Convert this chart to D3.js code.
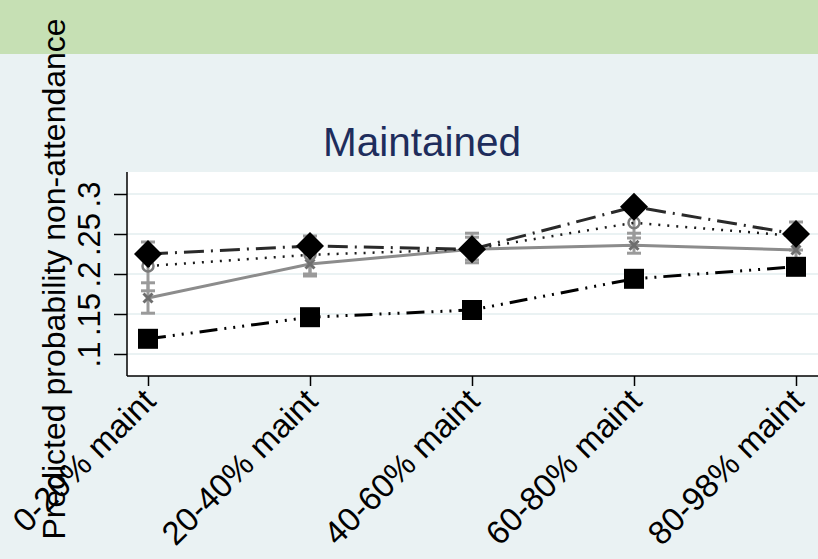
<!DOCTYPE html>
<html>
<head>
<meta charset="utf-8">
<script src="https://cdn.jsdelivr.net/npm/d3@7"></script>
<style>
    body { margin: 0; background: #eaf2f3; }
    svg { display: block; font-family: "Liberation Sans", Arial, sans-serif; }
</style>
</head>
<body>
<div id="chart-area"></div>
<script>

// categories on the x axis
var categories = ["0-20% maint", "20-40% maint", "40-60% maint", "60-80% maint", "80-98% maint"];
var yTicks = [0.1, 0.15, 0.2, 0.25, 0.3];
var yTickLabels = [".1", ".15", ".2", ".25", ".3"];

// predicted probabilities
var diamondValues = [0.225, 0.235, 0.231, 0.284, 0.250];
var squareValues  = [0.119, 0.146, 0.155, 0.194, 0.209];
var crossValues   = [0.170, 0.2125, 0.231, 0.236, 0.230];
var circleValues  = [0.210, 0.224, 0.231, 0.264, 0.2475];

// confidence intervals (only drawn for the grey series)
var circleLow  = [0.179, 0.200, 0.214, 0.245, 0.230];
var circleHigh = [0.240, 0.2475, 0.251, 0.2825, 0.265];
var crossLow   = [0.151, 0.1975, 0.2175, 0.226, 0.214];
var crossHigh  = [0.189, 0.2275, 0.246, 0.251, 0.246];

/*
 * MarginsPlot - Object constructor function
 */
MarginsPlot = function(_parentElement){
    this.parentElement = _parentElement;
    this.initVis();
}

MarginsPlot.prototype.initVis = function(){
    var vis = this;

    vis.width = 818;
    vis.height = 559;
    vis.plot = { left: 127, right: 818, top: 172, bottom: 376 };

    vis.svg = d3.select("#" + vis.parentElement).append("svg")
        .attr("width", vis.width)
        .attr("height", vis.height);

    // backgrounds
    vis.svg.append("rect")
        .attr("width", vis.width).attr("height", vis.height)
        .attr("fill", "#eaf2f3");
    vis.svg.append("rect")
        .attr("width", vis.width).attr("height", 54)
        .attr("fill", "#c6e0b4");
    vis.svg.append("rect")
        .attr("x", vis.plot.left).attr("y", vis.plot.top)
        .attr("width", vis.plot.right - vis.plot.left)
        .attr("height", vis.plot.bottom - vis.plot.top)
        .attr("fill", "#ffffff");

    vis.x = d3.scalePoint()
        .domain(categories)
        .range([148, 796]);

    vis.y = d3.scaleLinear()
        .domain([0.1, 0.3])
        .range([354, 194]);

    // grid lines
    vis.svg.append("g")
        .selectAll("line")
        .data(yTicks)
        .enter().append("line")
        .attr("x1", vis.plot.left).attr("x2", vis.plot.right)
        .attr("y1", d => vis.y(d)).attr("y2", d => vis.y(d))
        .attr("stroke", "#eaf2f3")
        .attr("stroke-width", 2);

    vis.wrangleData();
}

MarginsPlot.prototype.wrangleData = function(){
    var vis = this;

    vis.series = [
        { name: "cross", values: crossValues, marker: "cross", color: "#8c8c8c", lineColor: "#8c8c8c", dash: null, width: 3 },
        { name: "circle", values: circleValues, marker: "circle", color: "#7a7a7a", lineColor: "#1a1a1a", dash: "2,7", width: 2.5 },
        { name: "square", values: squareValues, marker: "square", color: "#000000", lineColor: "#000000", dash: "18,7,2,7,2,7,2,7", width: 3 },
        { name: "diamond", values: diamondValues, marker: "diamond", color: "#000000", lineColor: "#2a2a2a", dash: "20,7,2,7", width: 3 }
    ];

    vis.intervals = [];
    categories.forEach(function(c, i) {
        vis.intervals.push({ cat: c, lo: circleLow[i], hi: circleHigh[i] });
        vis.intervals.push({ cat: c, lo: crossLow[i], hi: crossHigh[i] });
    });

    vis.updateVis();
}

MarginsPlot.prototype.updateVis = function(){
    var vis = this;

    // confidence intervals
    var ci = vis.svg.append("g").attr("class", "ci")
        .attr("stroke", "#9a9a9a")
        .attr("stroke-width", 3);

    ci.selectAll(".ci-bar")
        .data(vis.intervals)
        .enter().append("line")
        .attr("x1", d => vis.x(d.cat)).attr("x2", d => vis.x(d.cat))
        .attr("y1", d => vis.y(d.lo)).attr("y2", d => vis.y(d.hi));

    ci.selectAll(".cap-lo")
        .data(vis.intervals)
        .enter().append("line")
        .attr("x1", d => vis.x(d.cat) - 7).attr("x2", d => vis.x(d.cat) + 7)
        .attr("y1", d => vis.y(d.lo)).attr("y2", d => vis.y(d.lo));

    ci.selectAll(".cap-hi")
        .data(vis.intervals)
        .enter().append("line")
        .attr("x1", d => vis.x(d.cat) - 7).attr("x2", d => vis.x(d.cat) + 7)
        .attr("y1", d => vis.y(d.hi)).attr("y2", d => vis.y(d.hi));

    // lines
    var line = d3.line()
        .x((d, i) => vis.x(categories[i]))
        .y(d => vis.y(d));

    vis.svg.append("g").selectAll("path")
        .data(vis.series)
        .enter().append("path")
        .attr("d", d => line(d.values))
        .attr("fill", "none")
        .attr("stroke", d => d.lineColor)
        .attr("stroke-width", d => d.width)
        .attr("stroke-dasharray", d => d.dash);

    // markers
    vis.series.forEach(function(s) {
        var g = vis.svg.append("g").attr("class", "markers-" + s.name);
        s.values.forEach(function(v, i) {
            var cx = vis.x(categories[i]), cy = vis.y(v);
            if (s.marker === "circle") {
                g.append("circle")
                    .attr("cx", cx).attr("cy", cy).attr("r", 5.5)
                    .attr("fill", "none")
                    .attr("stroke", s.color).attr("stroke-width", 2.5);
            } else if (s.marker === "cross") {
                g.append("path")
                    .attr("d", "M" + (cx - 4.5) + "," + (cy - 4.5) + "L" + (cx + 4.5) + "," + (cy + 4.5) +
                        "M" + (cx - 4.5) + "," + (cy + 4.5) + "L" + (cx + 4.5) + "," + (cy - 4.5))
                    .attr("stroke", "#6e6e6e").attr("stroke-width", 3);
            } else if (s.marker === "square") {
                g.append("rect")
                    .attr("x", cx - 10).attr("y", cy - 10)
                    .attr("width", 20).attr("height", 20)
                    .attr("fill", s.color);
            } else {
                g.append("path")
                    .attr("d", "M" + cx + "," + (cy - 14) + "L" + (cx + 14) + "," + cy +
                        "L" + cx + "," + (cy + 14) + "L" + (cx - 14) + "," + cy + "Z")
                    .attr("fill", s.color);
            }
        });
    });

    // axes
    var yAxis = d3.axisLeft(vis.y)
        .tickValues(yTicks)
        .tickFormat((d, i) => yTickLabels[i])
        .tickSize(13)
        .tickPadding(0);

    var yg = vis.svg.append("g")
        .attr("transform", "translate(" + vis.plot.left + ",0)")
        .call(yAxis);
    yg.select(".domain").attr("d", "M0," + vis.plot.top + "V" + vis.plot.bottom)
        .attr("stroke-width", 1.5);
    yg.selectAll(".tick line").attr("stroke-width", 1.5);
    yg.selectAll(".tick text")
        .attr("x", null).attr("dy", null)
        .attr("transform", "translate(-27,0) rotate(-90)")
        .attr("text-anchor", "middle")
        .attr("font-size", 31)
        .attr("fill", "#000");

    var xAxis = d3.axisBottom(vis.x)
        .tickSize(10)
        .tickPadding(0);

    var xg = vis.svg.append("g")
        .attr("transform", "translate(0," + vis.plot.bottom + ")")
        .call(xAxis);
    xg.select(".domain").attr("d", "M" + vis.plot.left + ",0H" + vis.plot.right)
        .attr("stroke-width", 1.5);
    xg.selectAll(".tick line").attr("stroke-width", 1.5);
    xg.selectAll(".tick text")
        .attr("y", null).attr("dy", null)
        .attr("transform", "translate(9,27) rotate(-45)")
        .attr("text-anchor", "end")
        .attr("font-size", 33)
        .attr("fill", "#000");

    // title and axis label
    vis.svg.append("text")
        .attr("x", 422)
        .attr("y", 156)
        .attr("text-anchor", "middle")
        .attr("font-size", 40.5)
        .attr("fill", "#1e2d5c")
        .text("Maintained");

    vis.svg.append("text")
        .attr("transform", "translate(65,279) rotate(-90)")
        .attr("text-anchor", "middle")
        .attr("font-size", 32)
        .attr("fill", "#000")
        .text("Predicted probability non-attendance");
}

var plot = new MarginsPlot("chart-area");

</script>
</body>
</html>
